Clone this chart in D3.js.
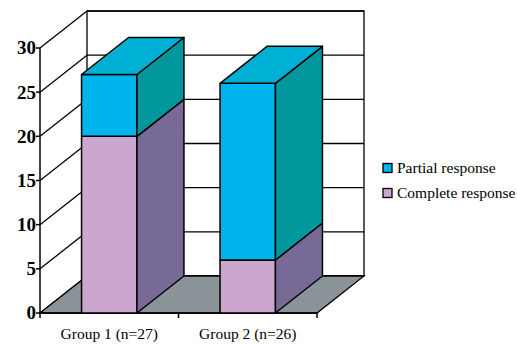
<!DOCTYPE html>
<html><head><meta charset="utf-8">
<script src="https://cdn.jsdelivr.net/npm/d3@7"></script>
<style>html,body{margin:0;padding:0;background:#fff;}svg{display:block;} text{font-family:"Liberation Serif","Times New Roman",Times,serif;}</style>
</head><body><svg id="c" width="517" height="346"></svg>
<script>
const categories = ["Group 1 (n=27)", "Group 2 (n=26)"];
const completeResponse = [20, 6];
const partialResponse = [7, 20];
const yTicks = [0, 5, 10, 15, 20, 25, 30];
const seriesNames = ["Complete response", "Partial response"];

const svg = d3.select("#c");
const DX = 47, DY = -37;
const y = d3.scaleLinear().domain([0, 30]).range([313, 48]);
const x = d3.scaleBand().domain(categories).range([40, 317]).paddingInner(0.6).paddingOuter(0.3);
const x0 = 40, x1 = 317;

const colors = {
  "Complete response": {front: "#cba6cf", side: "#776a96", top: "#b89cc4"},
  "Partial response": {front: "#00b5ec", side: "#00989c", top: "#00b0d4"}
};

svg.append("rect").attr("x", x0 + DX).attr("y", y(30) + DY).attr("width", x1 - x0).attr("height", y(0) - y(30))
  .attr("fill", "#fff").attr("stroke", "#000").attr("stroke-width", 1.3);
svg.selectAll(".bg").data(yTicks).join("line")
  .attr("x1", x0 + DX).attr("x2", x1 + DX).attr("y1", d => y(d) + DY).attr("y2", d => y(d) + DY)
  .attr("stroke", "#000").attr("stroke-width", 1.3);
svg.selectAll(".sg").data(yTicks).join("line")
  .attr("x1", x0).attr("x2", x0 + DX).attr("y1", d => y(d)).attr("y2", d => y(d) + DY)
  .attr("stroke", "#000").attr("stroke-width", 1.3);
svg.append("polygon")
  .attr("points", [[x0, y(0)], [x1, y(0)], [x1 + DX, y(0) + DY], [x0 + DX, y(0) + DY]].map(p => p.join(",")).join(" "))
  .attr("fill", "#8a9498").attr("stroke", "#000").attr("stroke-width", 1.3);

svg.append("line").attr("x1", x0).attr("x2", x0).attr("y1", y(30)).attr("y2", y(0)).attr("stroke", "#000").attr("stroke-width", 1.5);
svg.selectAll(".yt").data(yTicks).join("line")
  .attr("x1", x0 - 4).attr("x2", x0).attr("y1", d => y(d)).attr("y2", d => y(d)).attr("stroke", "#000").attr("stroke-width", 1.5);
svg.selectAll(".yl").data(yTicks).join("text")
  .attr("x", x0 - 4).attr("y", d => y(d)).attr("dy", "0.34em").attr("text-anchor", "end")
  .attr("font-weight", "bold").attr("font-size", 19)
  .text(d => d);
svg.append("line").attr("x1", x0).attr("x2", x1).attr("y1", y(0)).attr("y2", y(0)).attr("stroke", "#000").attr("stroke-width", 1.5);
const xTickPos = [x0, (x0 + x1) / 2, x1];
svg.selectAll(".xt").data(xTickPos).join("line")
  .attr("x1", d => d).attr("x2", d => d).attr("y1", y(0)).attr("y2", y(0) + 5).attr("stroke", "#000").attr("stroke-width", 1.5);
svg.selectAll(".xl").data(categories).join("text")
  .attr("x", d => x(d) + x.bandwidth() / 2).attr("y", 334).attr("dy", "0.35em").attr("text-anchor", "middle")
  .attr("font-size", 15.5).text(d => d);

categories.forEach((c, i) => {
  const segs = [
    {name: "Complete response", lo: 0, hi: completeResponse[i]},
    {name: "Partial response", lo: completeResponse[i], hi: completeResponse[i] + partialResponse[i]}
  ];
  const bx = x(c), bw = x.bandwidth();
  const g = svg.append("g").attr("stroke", "#000").attr("stroke-width", 1.5).attr("stroke-linejoin", "round");
  segs.forEach((s, k) => {
    const col = colors[s.name];
    const yb = y(s.lo), yt = y(s.hi);
    g.append("rect").attr("x", bx).attr("y", yt).attr("width", bw).attr("height", yb - yt).attr("fill", col.front);
    g.append("polygon").attr("points", [[bx + bw, yb], [bx + bw + DX, yb + DY], [bx + bw + DX, yt + DY], [bx + bw, yt]].map(p => p.join(",")).join(" "))
      .attr("fill", col.side);
    if (k === segs.length - 1) {
      g.append("polygon").attr("points", [[bx, yt], [bx + bw, yt], [bx + bw + DX, yt + DY], [bx + DX, yt + DY]].map(p => p.join(",")).join(" "))
        .attr("fill", col.top);
    }
  });
});

const legendItems = ["Partial response", "Complete response"];
const lg = svg.selectAll(".lg").data(legendItems).join("g").attr("transform", (d, i) => `translate(383, ${168 + i * 25})`);
lg.append("rect").attr("x", 0).attr("y", -4.5).attr("width", 9).attr("height", 9)
  .attr("fill", d => colors[d].front).attr("stroke", "#000").attr("stroke-width", 1.3);
lg.append("text").attr("x", 14).attr("y", 0).attr("dy", "0.35em")
  .attr("font-size", 15.5).text(d => d);
</script></body></html>
